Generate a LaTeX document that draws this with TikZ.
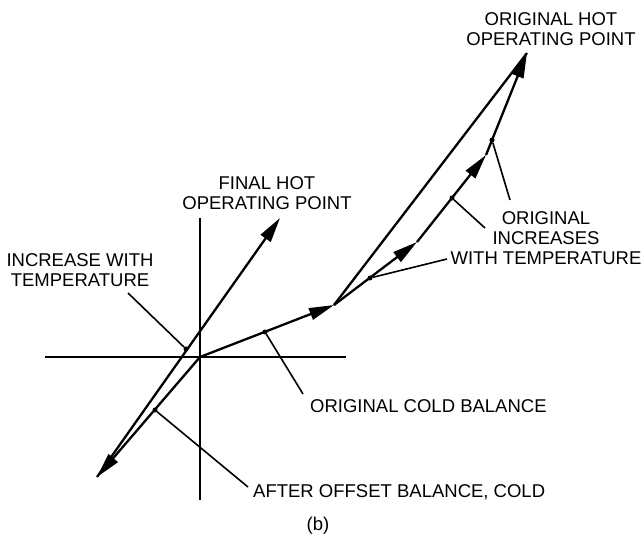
\documentclass[tikz,border=0pt]{standalone}
\usepackage{fontspec}
\setmainfont{Liberation Sans}
\usetikzlibrary{arrows.meta}

\begin{document}
\begin{tikzpicture}[
  x=1pt,y=-1pt,
  every node/.style={inner sep=0pt,font=\fontsize{18.5}{20}\selectfont},
  axis/.style={line width=1.8pt},
  vec/.style={line width=2.3pt},
  arr/.style={vec,-{Triangle[length=25pt,width=12pt]}},
  lead/.style={line width=1.6pt},
  tip/.style={circle,fill=black,minimum size=5pt,inner sep=0pt},
  lbl/.style={align=center}
]
\useasboundingbox (0,0) rectangle (644,536);
% ================= axes =================
\coordinate (O) at (200,357);
\coordinate (xl) at (45,357);
\coordinate (xr) at (346,357);
\coordinate (yt) at (200,218);
\coordinate (yb) at (200,500);
\draw[axis] (xl) -- (xr);
\draw[axis] (yt) -- (yb);
% ================= balance vectors =================
\coordinate (C) at (334,305);
\coordinate (A) at (417,242);
\coordinate (B) at (486,155);
\coordinate (H) at (527,53);
\coordinate (L) at (97,477);
\coordinate (F) at (280,218);
\draw[arr] (O) -- (C);
\draw[arr] (C) -- (A);
\draw[arr] (A) -- (B);
\draw[arr] (B) -- (H);
\draw[vec] (C) -- (H);
\draw[arr] (O) -- (L);
\draw[arr] (L) -- (F);
% ================= labels =================
\node[lbl] (inc) at (80,270) {INCREASE WITH\\TEMPERATURE};
\node[lbl] (fin) at (267,193.5) {FINAL HOT\\OPERATING POINT};
\node[lbl] (orh) at (551,29.5) {ORIGINAL HOT\\OPERATING POINT};
\node[lbl] (ori) at (546,238.5) {ORIGINAL\\INCREASES\\WITH TEMPERATURE};
\node[anchor=base west] (cold) at (310,412) {ORIGINAL COLD BALANCE};
\node[anchor=base west] (aft) at (253,497) {AFTER OFFSET BALANCE, COLD};
\node (pb) at (318,526) {(b)};
% ================= leaders =================
\node[tip] (d1) at (186,349) {};
\node[tip] (d2) at (155,410) {};
\node[tip] (d3) at (265,332) {};
\node[tip] (d4) at (370,278) {};
\node[tip] (d5) at (452,198) {};
\node[tip] (d6) at (492,140) {};
\coordinate (s1) at (128,293);
\coordinate (s2) at (248,487);
\coordinate (s3) at (303,394);
\coordinate (s4) at (447,259);
\coordinate (s5) at (485,228);
\coordinate (s6) at (510,200);
\draw[lead] (s1) -- (d1);
\draw[lead] (s2) -- (d2);
\draw[lead] (s3) -- (d3);
\draw[lead] (s4) -- (d4);
\draw[lead] (s5) -- (d5);
\draw[lead] (s6) -- (d6);
\end{tikzpicture}
\end{document}
